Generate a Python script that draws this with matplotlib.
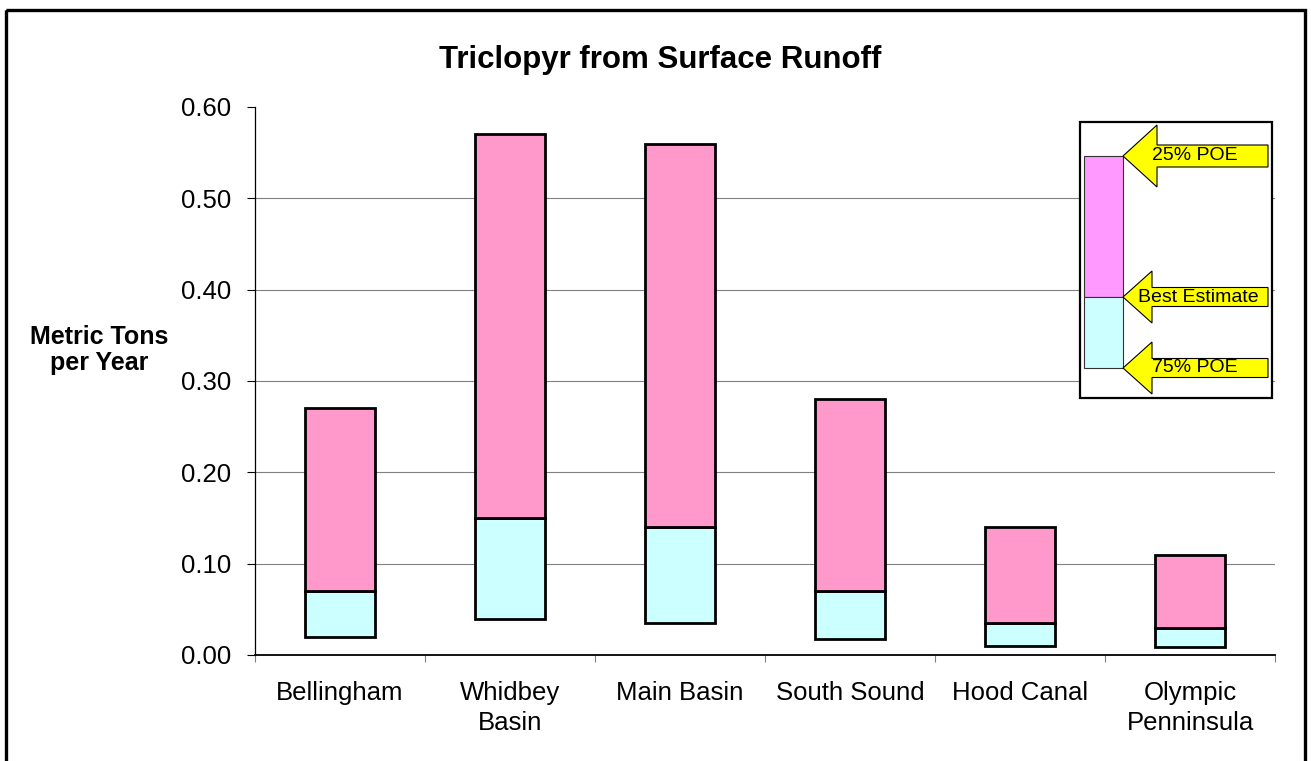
import matplotlib
matplotlib.use("Agg")
import matplotlib.pyplot as plt
from matplotlib.patches import Rectangle, Polygon
import numpy as np

plt.rcParams['font.family'] = ['Liberation Sans', 'DejaVu Sans']

# Basin names and annual load estimates (metric tons per year)
regions = ["Bellingham", "Whidbey\nBasin", "Main Basin", "South Sound",
           "Hood Canal", "Olympic\nPenninsula"]
poe75 = [0.020, 0.039, 0.035, 0.018, 0.010, 0.009]   # 75% probability of exceedance
best_estimate = [0.070, 0.150, 0.140, 0.070, 0.035, 0.030]
poe25 = [0.270, 0.570, 0.560, 0.280, 0.140, 0.110]   # 25% probability of exceedance
y_ticks = [0.0, 0.1, 0.2, 0.3, 0.4, 0.5, 0.6]

W, H = 1311, 761
fig = plt.figure(figsize=(W / 100, H / 100), dpi=100)
fig.patch.set_facecolor("white")

# Plot area
L, R, T, B = 255, 1275, 107, 655
ax = fig.add_axes([L / W, 1 - B / H, (R - L) / W, (B - T) / H])

x = np.arange(len(regions))
low = np.array(poe75)
mid = np.array(best_estimate)
high = np.array(poe25)

cyan = "#CCFFFF"
pink = "#FF99CC"
ax.bar(x, mid - low, bottom=low, width=0.41, color=cyan,
       edgecolor="black", linewidth=2.0, zorder=3)
ax.bar(x, high - mid, bottom=mid, width=0.41, color=pink,
       edgecolor="black", linewidth=2.0, zorder=3)

ax.set_xlim(-0.5, len(regions) - 0.5)
ax.set_ylim(0, 0.6)

# Gridlines at interior ticks only
for yv in y_ticks[1:-1]:
    ax.axhline(yv, color="#808080", linewidth=0.8, zorder=1)

ax.set_yticks(y_ticks)
ax.set_yticklabels([f"{v:.2f}" for v in y_ticks], fontsize=18.5)
ax.tick_params(axis="y", direction="out", length=6, width=0.8, pad=11,
               color="black")

# Category boundaries as major ticks, names as minor ticks
ax.set_xticks(np.arange(-0.5, len(regions), 1.0))
ax.set_xticklabels([])
ax.tick_params(axis="x", which="major", direction="out", length=5,
               width=0.8, color="#808080")
ax.set_xticks(x, minor=True)
ax.set_xticklabels(regions, minor=True, fontsize=18.5, linespacing=1.3)
ax.tick_params(axis="x", which="minor", length=0, pad=19)

for s in ("top", "right"):
    ax.spines[s].set_visible(False)
ax.spines["left"].set_linewidth(0.9)
ax.spines["bottom"].set_linewidth(1.3)

# Title and axis label
fig.text(660 / W, 1 - 68 / H, "Triclopyr from Surface Runoff",
         ha="center", va="baseline", fontsize=22.5, fontweight="bold")
fig.text(99 / W, 1 - 350 / H, "Metric Tons\nper Year", ha="center",
         va="center", fontsize=18, fontweight="bold", linespacing=1.15)

# Overlay axes in pixel units for the frame and the key
ov = fig.add_axes([0, 0, 1, 1], zorder=10)
ov.set_xlim(0, W)
ov.set_ylim(H, 0)
ov.axis("off")
ov.patch.set_alpha(0)

# Outer frame
ov.add_patch(Rectangle((5.5, 9.5), 1299, 790, fill=False,
                       edgecolor="black", linewidth=2.4, clip_on=False))

# Key box
ov.add_patch(Rectangle((1080, 122), 192, 276, facecolor="white",
                       edgecolor="black", linewidth=1.6))
ov.add_patch(Rectangle((1084, 156), 39, 141, facecolor="#FF99FF",
                       edgecolor="#333333", linewidth=0.8))
ov.add_patch(Rectangle((1084, 297), 39, 71, facecolor=cyan,
                       edgecolor="#333333", linewidth=0.8))


def key_arrow(y, head_len, head_half, shaft_half, x_tip=1123, x_end=1268):
    xb = x_tip + head_len
    pts = [(x_tip, y), (xb, y - head_half), (xb, y - shaft_half),
           (x_end, y - shaft_half), (x_end, y + shaft_half),
           (xb, y + shaft_half), (xb, y + head_half)]
    ov.add_patch(Polygon(pts, closed=True, facecolor="#FFFF00",
                         edgecolor="black", linewidth=0.8))


key_arrow(156, 34, 31, 11)
key_arrow(297, 29, 26, 9.5)
key_arrow(368, 29, 26, 9.5)

ov.text(1195, 156, "25% POE", ha="center", va="center", fontsize=14)
ov.text(1198, 297, "Best Estimate", ha="center", va="center", fontsize=14)
ov.text(1195, 368, "75% POE", ha="center", va="center", fontsize=14)

fig.savefig("out.png", dpi=100, facecolor="white")
